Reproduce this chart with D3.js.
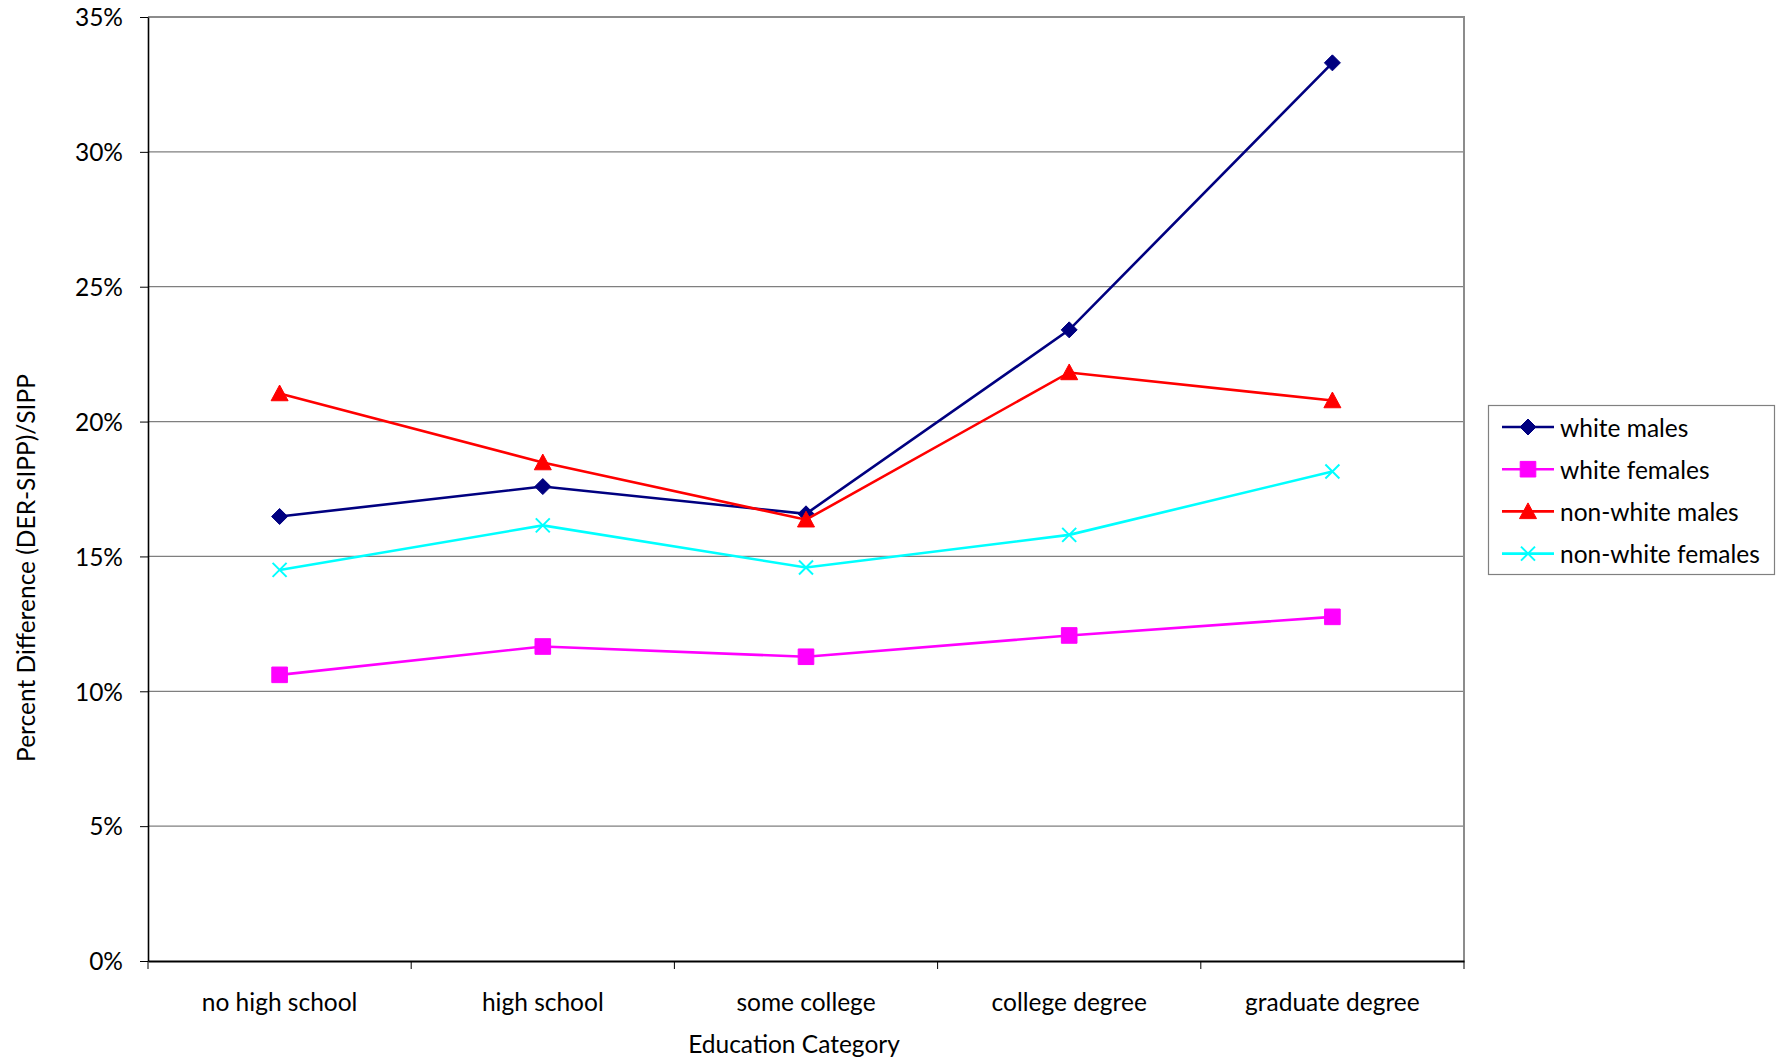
<!DOCTYPE html>
<html>
<head>
<meta charset="utf-8">
<script src="https://cdn.jsdelivr.net/npm/d3@7"></script>
<style>
  html, body { margin: 0; padding: 0; background: #fff; }
  svg { display: block; }
  text { font-family: Lato, "Open Sans", sans-serif; fill: #000; }
</style>
</head>
<body>
<svg id="chart" width="1782" height="1062"></svg>
<script>
// Education categories along the x axis
const categories = ["no high school", "high school", "some college", "college degree", "graduate degree"];

// Percent difference (DER-SIPP)/SIPP by group
const whiteMales      = [0.1648, 0.1759, 0.1658, 0.2340, 0.3330];
const whiteFemales    = [0.1061, 0.1166, 0.1128, 0.1207, 0.1276];
const nonWhiteMales   = [0.2104, 0.1848, 0.1636, 0.2182, 0.2078];
const nonWhiteFemales = [0.1450, 0.1615, 0.1459, 0.1580, 0.1815];

const seriesNames = ["white males", "white females", "non-white males", "non-white females"];
const yTicks = [0, 0.05, 0.10, 0.15, 0.20, 0.25, 0.30, 0.35];

const series = [
  { name: seriesNames[0], values: whiteMales,      color: "#000080", symbol: "diamond" },
  { name: seriesNames[1], values: whiteFemales,    color: "#FF00FF", symbol: "square" },
  { name: seriesNames[2], values: nonWhiteMales,   color: "#FF0000", symbol: "triangle" },
  { name: seriesNames[3], values: nonWhiteFemales, color: "#00FFFF", symbol: "cross" }
];

const svg = d3.select("#chart");
const plot = { left: 148, right: 1464, top: 17, bottom: 961 };

const x = d3.scaleBand().domain(categories).range([plot.left, plot.right]).padding(0);
const y = d3.scaleLinear().domain([0, 0.35]).range([plot.bottom, plot.top]);
const cx = d => x(d) + x.bandwidth() / 2;

// horizontal gridlines
svg.append("g").selectAll("line")
  .data(yTicks.filter(t => t > 0 && t < 0.35))
  .join("line")
  .attr("x1", plot.left).attr("x2", plot.right)
  .attr("y1", d => y(d)).attr("y2", d => y(d))
  .attr("stroke", "#7f7f7f").attr("stroke-width", 1.2);

// top and right frame
svg.append("path")
  .attr("d", `M${plot.left},${y(0.35)}H${plot.right}V${plot.bottom}`)
  .attr("fill", "none").attr("stroke", "#8c8c8c").attr("stroke-width", 2);

// y axis
const yAxis = svg.append("g")
  .attr("transform", `translate(${plot.left},0)`)
  .call(d3.axisLeft(y).tickValues(yTicks).tickFormat(d3.format(".0%")).tickSize(8).tickSizeOuter(0).tickPadding(17));
yAxis.select(".domain").attr("stroke", "#000").attr("stroke-width", 1.6);
yAxis.selectAll(".tick line").attr("stroke", "#000").attr("stroke-width", 1);
yAxis.selectAll(".tick text").attr("font-size", 24.5).attr("dy", "0.36em")
  .style("font-family", "Lato, sans-serif");

// x axis: labels centred in bands, tick marks on band edges
const xAxis = svg.append("g")
  .attr("transform", `translate(0,${plot.bottom})`)
  .call(d3.axisBottom(x).tickSize(0).tickSizeOuter(0).tickPadding(41));
xAxis.select(".domain").attr("stroke", "#000").attr("stroke-width", 2);
xAxis.selectAll(".tick text").attr("font-size", 24.5).attr("dy", "0.35em")
  .style("font-family", "Lato, sans-serif");
const edges = categories.map(c => x(c)).concat([x(categories[categories.length - 1]) + x.bandwidth()]);
xAxis.selectAll(".edge").data(edges).join("line")
  .attr("class", "edge")
  .attr("x1", d => d).attr("x2", d => d)
  .attr("y1", 0).attr("y2", 8)
  .attr("stroke", "#000").attr("stroke-width", 1);

// axis titles
svg.append("text")
  .attr("x", 794).attr("y", 1043)
  .attr("text-anchor", "middle").attr("dominant-baseline", "central")
  .attr("font-size", 24.5)
  .text("Education Category");

svg.append("text")
  .attr("transform", "translate(25,568) rotate(-90)")
  .attr("text-anchor", "middle").attr("dominant-baseline", "central")
  .attr("font-size", 24.5)
  .text("Percent Difference (DER-SIPP)/SIPP");

// marker shapes
function markerPath(symbol, s) {
  if (symbol === "diamond") return `M0,${-s}L${s},0L0,${s}L${-s},0Z`;
  if (symbol === "square") return `M${-s},${-s}H${s}V${s}H${-s}Z`;
  if (symbol === "triangle") return `M0,${-s}L${s},${s * 0.85}H${-s}Z`;
  return `M${-s},${-s}L${s},${s}M${s},${-s}L${-s},${s}`;
}
function drawMarker(g, s, sym, color) {
  const sizes = { diamond: 8, square: 7.8, triangle: 8.5, cross: 7 };
  g.append("path")
    .attr("d", markerPath(sym, sizes[sym]))
    .attr("fill", sym === "cross" ? "none" : color)
    .attr("stroke", color)
    .attr("stroke-width", sym === "cross" ? 2 : 1);
}

// series lines and markers
const line = d3.line().x(d => cx(d.cat)).y(d => y(d.v));
series.forEach(s => {
  const pts = categories.map((c, i) => ({ cat: c, v: s.values[i] }));
  svg.append("path")
    .datum(pts)
    .attr("d", line)
    .attr("fill", "none")
    .attr("stroke", s.color)
    .attr("stroke-width", 2.6);
  pts.forEach(p => {
    const g = svg.append("g").attr("transform", `translate(${cx(p.cat)},${y(p.v)})`);
    drawMarker(g, s, s.symbol, s.color);
  });
});

// legend
const legend = svg.append("g");
legend.append("rect")
  .attr("x", 1488.5).attr("y", 405.5).attr("width", 286).attr("height", 169)
  .attr("fill", "#fff").attr("stroke", "#808080").attr("stroke-width", 1.2);
series.forEach((s, i) => {
  const yy = 427 + i * 42.2;
  const row = legend.append("g");
  row.append("line")
    .attr("x1", 1502).attr("x2", 1554).attr("y1", yy).attr("y2", yy)
    .attr("stroke", s.color).attr("stroke-width", 2.6);
  drawMarker(row.append("g").attr("transform", `translate(1528,${yy})`), s, s.symbol, s.color);
  row.append("text")
    .attr("x", 1560).attr("y", yy)
    .attr("dominant-baseline", "central")
    .attr("font-size", 24.5)
    .text(s.name);
});
</script>
</body>
</html>
